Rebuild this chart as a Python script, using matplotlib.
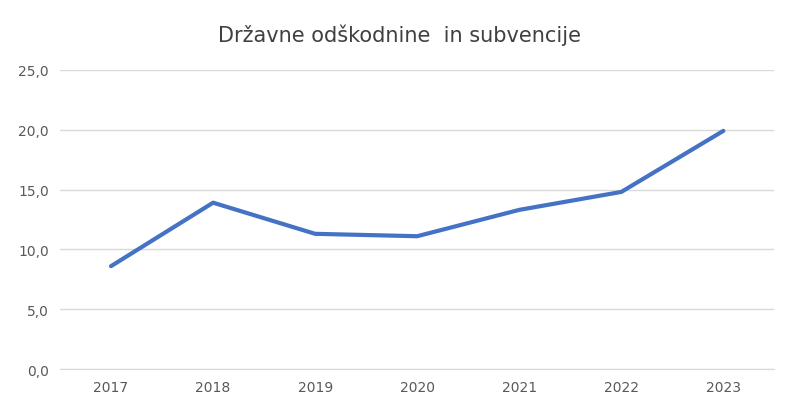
import matplotlib.pyplot as plt
from matplotlib.ticker import FuncFormatter

# data
years = ["2017", "2018", "2019", "2020", "2021", "2022", "2023"]
values = [8.6, 13.9, 11.3, 11.1, 13.3, 14.8, 19.9]

fig = plt.figure(figsize=(8.0, 4.14), dpi=100)
ax = fig.add_axes([0.075, 0.106, 0.893, 0.723])

ax.plot(range(len(years)), values, color="#4472C4", linewidth=3, solid_capstyle="round")

ax.set_xlim(-0.5, len(years) - 0.5)
ax.set_ylim(0, 25)
ax.set_yticks([0, 5, 10, 15, 20, 25])
ax.yaxis.set_major_formatter(FuncFormatter(lambda v, p: f"{v:.1f}".replace(".", ",")))
ax.set_xticks(range(len(years)))
ax.set_xticklabels(years)

ax.grid(axis="y", color="#D9D9D9", linewidth=1)
ax.set_axisbelow(True)
for side in ["top", "right", "left"]:
    ax.spines[side].set_visible(False)
ax.spines["bottom"].set_color("#D9D9D9")
ax.tick_params(length=0, colors="#595959", labelsize=10, pad=8)

fig.suptitle("Državne odškodnine  in subvencije", fontsize=15, color="#404040", y=0.94)

fig.savefig("out.png", dpi=100)
